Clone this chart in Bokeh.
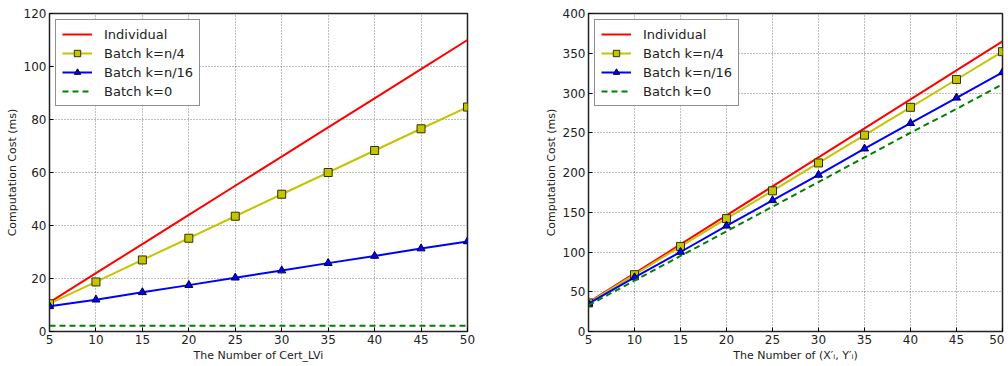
from bokeh.plotting import figure
from bokeh.models import Range1d, FixedTicker, Legend, LegendItem
from bokeh.layouts import row
from bokeh.embed import file_html
from bokeh.resources import INLINE

n_vals = [5, 10, 15, 20, 25, 30, 35, 40, 45, 50]

# Left chart: number of Cert_LVi
left_individual = [11, 22, 33, 44, 55, 66, 77, 88, 99, 110]
left_batch_n4 = [10.5, 18.7, 27.0, 35.2, 43.5, 51.8, 60.0, 68.3, 76.5, 84.7]
left_batch_n16 = [9.5, 12.0, 14.8, 17.5, 20.3, 23.0, 25.8, 28.5, 31.3, 34.0]
left_batch_k0 = [2.2, 2.2, 2.2, 2.2, 2.2, 2.2, 2.2, 2.2, 2.2, 2.2]

# Right chart: number of (X'_i, Y'_i)
right_individual = [36.5, 73, 109.5, 146, 182.5, 219, 255.5, 292, 328.5, 365]
right_batch_n4 = [36, 71.5, 107, 142, 177, 212, 247, 282, 317, 352]
right_batch_n16 = [35, 68, 100, 133, 165, 197, 230, 262, 294, 326]
right_batch_k0 = [33, 64, 95, 126, 157, 188, 219, 250, 280, 311]

labels = ["Individual", "Batch k=n/4", "Batch k=n/16", "Batch k=0"]
x_ticks = [5, 10, 15, 20, 25, 30, 35, 40, 45, 50]
left_y_ticks = [0, 20, 40, 60, 80, 100, 120]
right_y_ticks = [0, 50, 100, 150, 200, 250, 300, 350, 400]

FONT = "DejaVu Sans"


def make_plot(width, border_left, border_right, ymax, yticks, xlabel, ind, b4, b16, b0):
    p = figure(width=width, height=364, output_backend="svg", toolbar_location=None,
               x_range=Range1d(5, 50), y_range=Range1d(0, ymax),
               min_border_left=border_left, min_border_right=border_right,
               min_border_top=13, min_border_bottom=29)
    p.outline_line_color = "#222222"
    p.outline_line_width = 1.5
    p.background_fill_color = "white"
    p.border_fill_color = "white"

    for ax in (p.xaxis[0], p.yaxis[0]):
        ax.major_tick_in = 4
        ax.major_tick_out = 0
        ax.minor_tick_in = 0
        ax.minor_tick_out = 0
        ax.axis_line_color = "#222222"
        ax.major_label_text_font = FONT
        ax.major_label_text_font_size = "12px"
        ax.major_label_text_color = "#222222"
        ax.axis_label_text_font = FONT
        ax.axis_label_text_font_size = "11px"
        ax.axis_label_text_font_style = "normal"
        ax.axis_label_text_color = "#222222"
        ax.axis_label_standoff = 2
        ax.major_label_standoff = 3
    p.xaxis.ticker = FixedTicker(ticks=x_ticks)
    p.yaxis.ticker = FixedTicker(ticks=yticks)
    p.xaxis.axis_label = xlabel
    p.yaxis.axis_label = "Computation Cost (ms)"

    p.xgrid.ticker = FixedTicker(ticks=x_ticks)
    p.ygrid.ticker = FixedTicker(ticks=yticks)
    p.grid.grid_line_color = "#444444"
    p.grid.grid_line_dash = "1 2"
    p.grid.grid_line_alpha = 0.7

    r_ind = p.line(n_vals, ind, line_color="#ff0000", line_width=2)
    r_b4 = p.line(n_vals, b4, line_color="#c4c400", line_width=2)
    r_b4m = p.scatter(n_vals, b4, marker="square", size=8, fill_color="#c4c400",
                      line_color="#333300", line_width=1)
    r_b16 = p.line(n_vals, b16, line_color="#0000ff", line_width=2)
    r_b16m = p.scatter(n_vals, b16, marker="triangle", size=8, fill_color="#0000ff",
                       line_color="#000033", line_width=1)
    r_b0 = p.line(n_vals, b0, line_color="#008000", line_width=2, line_dash="6 4")

    legend = Legend(items=[
        LegendItem(label=labels[0], renderers=[r_ind]),
        LegendItem(label=labels[1], renderers=[r_b4, r_b4m]),
        LegendItem(label=labels[2], renderers=[r_b16, r_b16m]),
        LegendItem(label=labels[3], renderers=[r_b0]),
    ], location="top_left")
    legend.border_line_color = "#222222"
    legend.border_line_width = 1.5
    legend.label_text_font = FONT
    legend.label_text_font_size = "13px"
    legend.label_text_color = "#222222"
    legend.glyph_width = 30
    legend.glyph_height = 16
    legend.label_standoff = 12
    legend.spacing = 3
    legend.padding = 6
    legend.margin = 6
    legend.background_fill_alpha = 1.0
    p.add_layout(legend)
    return p


p1 = make_plot(540, 49, 73, 120, left_y_ticks, "The Number of Cert_LVi",
               left_individual, left_batch_n4, left_batch_n16, left_batch_k0)
p2 = make_plot(464, 48, 2, 400, right_y_ticks, "The Number of (X\u2032\u1d62, Y\u2032\u1d62)",
               right_individual, right_batch_n4, right_batch_n16, right_batch_k0)

layout = row(p1, p2)
open("out.html", "w").write(file_html(layout, INLINE))
